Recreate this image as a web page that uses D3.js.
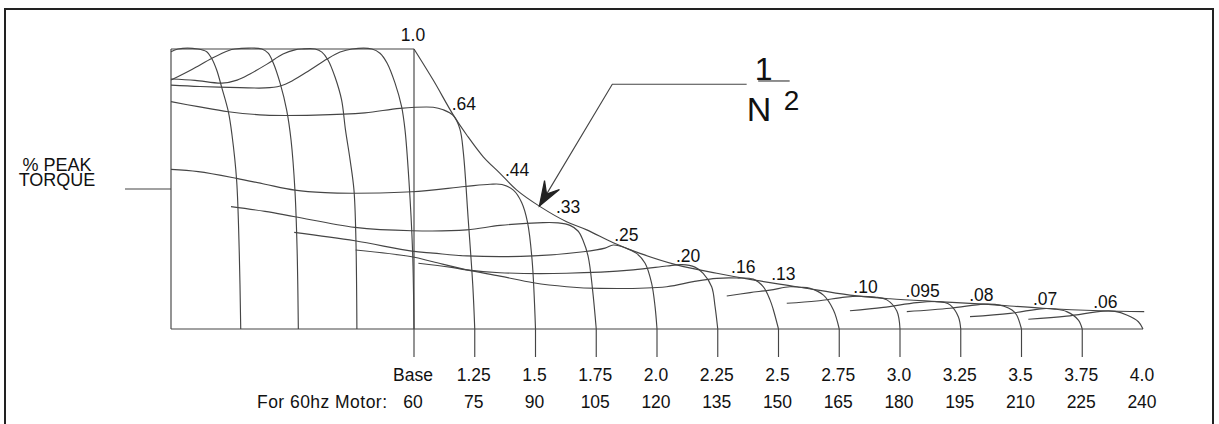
<!DOCTYPE html>
<html><head><meta charset="utf-8">
<script src="https://cdn.jsdelivr.net/npm/d3@7"></script>
<style>html,body{margin:0;padding:0;background:#fff;} svg{display:block;}</style>
</head><body>
<svg id="chart" width="1219" height="424"></svg>
<script>
// ---------------- DATA ----------------
// speed in multiples of base speed, torque in % of peak torque (as drawn)
const speedTicks = [1, 1.25, 1.5, 1.75, 2, 2.25, 2.5, 2.75, 3, 3.25, 3.5, 3.75, 4];
const ratioLabels = ["Base","1.25","1.5","1.75","2.0","2.25","2.5","2.75","3.0","3.25","3.5","3.75","4.0"];
const hzLabels = ["60","75","90","105","120","135","150","165","180","195","210","225","240"];
const hzCaption = "For 60hz Motor:";
const yLabelLines = ["% PEAK", "TORQUE"];
const topLabel = "1.0";

// 1/N^2 envelope
const envSpeed  = [1.000,1.079,1.162,1.217,1.285,1.354,1.423,1.519,1.628,1.711,1.820,1.930,2.081,2.246,2.383,2.575,2.794,2.959,3.151,3.343,3.588,3.823,4.005];
const envTorque = [100,88.9,76.4,69.3,61.5,55.6,49.6,43.7,38.3,35.4,30.8,27.0,22.9,19.9,17.7,15.1,12.1,10.8,9.8,8.9,7.4,6.5,6.2];
const envValueLabels = [".64",".44",".33",".25",".20",".16",".13",".10",".095",".08",".07",".06"];
const envLabelSpeed  = [1.155,1.374,1.584,1.824,2.078,2.305,2.470,2.808,3.023,3.285,3.547,3.795];

// speed-torque curves, one per frequency
const curveSpeeds = [
  [0,0.029,0.111,0.147,0.167,0.188,0.209,0.236,0.251,0.270,0.281,0.287],
  [0,0.086,0.169,0.235,0.263,0.374,0.400,0.421,0.449,0.476,0.494,0.510,0.519,0.524],
  [0,0.099,0.210,0.272,0.325,0.395,0.461,0.510,0.539,0.593,0.621,0.646,0.675,0.702,0.718,0.737,0.753,0.761,0.765],
  [0,0.119,0.284,0.387,0.449,0.498,0.572,0.642,0.696,0.745,0.827,0.860,0.889,0.922,0.949,0.963,0.979,0.994,1.0],
  [0,0.112,0.236,0.387,0.593,0.798,0.942,1.079,1.120,1.162,1.189,1.203,1.223,1.242,1.25],
  [0,0.112,0.270,0.387,0.510,0.634,0.757,0.991,1.210,1.313,1.362,1.409,1.443,1.467,1.486,1.5],
  [0.247,0.387,0.510,0.757,0.991,1.217,1.354,1.532,1.593,1.642,1.675,1.695,1.717,1.735,1.75],
  [0.507,0.757,0.991,1.079,1.217,1.491,1.697,1.786,1.820,1.875,1.916,1.951,1.978,1.992,2.0],
  [1.018,1.148,1.217,1.354,1.628,1.902,2.040,2.103,2.156,2.190,2.225,2.239,2.25],
  [0.760,0.991,1.078,1.217,1.354,1.491,1.628,1.765,2.040,2.149,2.246,2.329,2.396,2.437,2.465,2.479,2.5],
  [2.287,2.383,2.465,2.547,2.588,2.630,2.685,2.726,2.75],
  [2.534,2.657,2.773,2.835,2.897,2.946,2.987,3.0],
  [2.794,2.931,3.069,3.151,3.181,3.206,3.240,3.25],
  [3.028,3.206,3.343,3.391,3.425,3.461,3.480,3.5],
  [3.288,3.453,3.590,3.638,3.686,3.734,3.75],
  [3.528,3.686,3.837,3.885,3.933,3.981,4.0]
];
const curveTorques = [
  [99.0,100,100,99.0,96.7,92.5,86.2,77.6,69.3,53.2,27.1,0],
  [88.9,92.7,96.7,99.4,100,100,98.5,95.0,87.8,78.2,67.5,49.6,28.2,0],
  [89.3,88.8,87.8,88.9,91.1,94.6,98.2,99.7,100,100,98.9,96.1,90.0,81.8,71.1,60.4,49.6,31.8,0],
  [87.1,86.6,86.2,86.1,86.8,88.6,92.5,96.4,98.9,100,100,98.5,95.0,87.8,79.4,71.1,53.2,28.2,0],
  [81.2,79.4,77.6,76.4,76.4,77.2,78.8,79.2,78.3,76.2,71.4,63.1,39.3,15.5,0],
  [57.0,56.2,53.8,51.7,49.6,48.7,48.5,49.0,50.9,51.7,51.6,49.6,45.2,38.2,24.6,0],
  [43.7,42.0,40.1,36.3,35.1,35.4,37.0,38.0,37.9,37.0,35.0,31.8,25.8,13.9,0],
  [34.5,31.5,27.8,27.1,26.1,26.1,27.6,28.9,30.0,28.8,27.0,23.5,16.3,8.0,0],
  [23.5,22.1,21.1,20.1,19.9,21.1,22.5,23.0,22.1,19.9,15.1,8.0,0],
  [28.2,25.8,24.0,21.1,18.9,16.5,15.1,14.5,15.1,16.9,18.1,18.2,17.8,15.1,10.4,6.8,0],
  [11.8,13.0,13.9,15.1,14.9,14.5,12.1,6.8,0],
  [9.2,10.0,11.4,11.7,11.4,10.4,6.4,0],
  [6.5,7.7,9.4,9.8,9.5,8.6,4.4,0],
  [6.2,7.4,8.9,8.8,8.2,6.8,5.0,0],
  [4.4,5.6,7.3,7.1,6.2,3.2,0],
  [3.5,4.6,6.4,6.3,5.0,2.6,0]
];

// 1/N^2 callout leader (speed, torque)
const leaderSpeed  = [2.369, 1.816, 1.516];
const leaderTorque = [87.4, 87.4, 43.9];
const calloutNum = "1", calloutDen = "N", calloutExp = "2";
const yLabelTorque = 50; // torque level of the "% PEAK TORQUE" pointer

// ---------------- DRAW ----------------
const svg = d3.select("#chart");
const W = 1219, H = 424;
const x = d3.scaleLinear().domain([0, 4]).range([171, 1143]);
const y = d3.scaleLinear().domain([0, 100]).range([329, 49]);
const FONT = "'Liberation Sans', Arial, Helvetica, sans-serif";
const LINE = "#454545", TXT = "#111";
const FS = 17.5;

svg.append("rect").attr("width", W).attr("height", H).attr("fill", "#fff");
// outer frame
svg.append("rect").attr("x", 5).attr("y", 9).attr("width", 1208).attr("height", 440)
  .attr("fill", "none").attr("stroke", "#222").attr("stroke-width", 2);

const g = svg.append("g").attr("fill", "none").attr("stroke", LINE).attr("stroke-width", 1.15);

// box: left side, top, baseline
g.append("line").attr("x1", x(0)).attr("x2", x(0)).attr("y1", y(0)).attr("y2", y(100));
g.append("line").attr("x1", x(0)).attr("x2", x(1)).attr("y1", y(100)).attr("y2", y(100));
g.append("line").attr("x1", x(0)).attr("x2", x(4)).attr("y1", y(0)).attr("y2", y(0));

// ticks (base line spans the full height)
const tickLen = 28;
g.selectAll("line.tick").data(speedTicks.filter(d => d < 4)).join("line").attr("class", "tick")
  .attr("x1", d => x(d)).attr("x2", d => x(d))
  .attr("y1", d => d === 1 ? y(100) : y(0)).attr("y2", y(0) + tickLen);

// y label pointer
g.append("line").attr("x1", x(0) - 46).attr("x2", x(0)).attr("y1", y(yLabelTorque)).attr("y2", y(yLabelTorque));

const line = d3.line().x(d => x(d[0])).y(d => y(d[1])).curve(d3.curveCatmullRom.alpha(0.5));

// envelope
g.append("path").attr("d", line(d3.zip(envSpeed, envTorque)));

// curves
g.selectAll("path.curve").data(curveSpeeds.map((s, i) => d3.zip(s, curveTorques[i])))
  .join("path").attr("class", "curve").attr("d", line);

// leader + arrow
const lead = d3.zip(leaderSpeed, leaderTorque);
g.append("path").attr("d", d3.line().x(d => x(d[0])).y(d => y(d[1])).curve(d3.curveLinear)(lead));
{
  const tip = [x(lead[2][0]), y(lead[2][1])];
  const prev = [x(lead[1][0]), y(lead[1][1])];
  const ang = Math.atan2(prev[1] - tip[1], prev[0] - tip[0]);
  const L = 26, a = 0.34;
  const p1 = [tip[0] + L * Math.cos(ang + a), tip[1] + L * Math.sin(ang + a)];
  const p2 = [tip[0] + L * Math.cos(ang - a), tip[1] + L * Math.sin(ang - a)];
  const n = [tip[0] + 14 * Math.cos(ang), tip[1] + 14 * Math.sin(ang)];
  svg.append("path").attr("d", `M${tip}L${p1}L${n}L${p2}Z`)
    .attr("fill", "#222").attr("stroke", "#222").attr("stroke-width", 1.2).attr("stroke-linejoin", "miter");
}

// callout text 1/N^2
const cx = x(lead[0][0]), cy = y(lead[0][1]);
const t = svg.append("g").attr("fill", TXT).attr("font-family", FONT);
t.append("text").attr("x", cx + 17).attr("y", cy - 4).attr("text-anchor", "middle").attr("font-size", 32).text(calloutNum);
svg.append("line").attr("x1", cx + 11.5).attr("x2", cx + 43).attr("y1", cy - 3.3).attr("y2", cy - 3.3)
  .attr("stroke", LINE).attr("stroke-width", 1.2);
t.append("text").attr("x", cx + 0).attr("y", cy + 37).attr("font-size", 34).text(calloutDen);
t.append("text").attr("x", cx + 37).attr("y", cy + 26).attr("font-size", 28).text(calloutExp);

// "1.0"
t.append("text").attr("x", x(1) - 1).attr("y", y(100) - 8).attr("text-anchor", "middle").attr("font-size", FS).text(topLabel);

// envelope value labels
const envAt = d3.scaleLinear().domain(envSpeed).range(envTorque);
t.selectAll("text.env").data(envValueLabels).join("text").attr("class", "env")
  .attr("x", (d, i) => x(envLabelSpeed[i]))
  .attr("y", (d, i) => y(envAt(envLabelSpeed[i])) - 2.5)
  .attr("font-size", FS).text(d => d);

// axis labels
t.selectAll("text.r1").data(ratioLabels).join("text").attr("class", "r1")
  .attr("x", (d, i) => x(speedTicks[i]) - 1).attr("y", y(0) + 52)
  .attr("text-anchor", "middle").attr("font-size", FS).text(d => d);
t.selectAll("text.r2").data(hzLabels).join("text").attr("class", "r2")
  .attr("x", (d, i) => x(speedTicks[i]) - 1).attr("y", y(0) + 79)
  .attr("text-anchor", "middle").attr("font-size", FS).text(d => d);
t.append("text").attr("x", x(1) - 27).attr("y", y(0) + 79).attr("text-anchor", "end")
  .attr("font-size", FS).attr("textLength", 130).attr("lengthAdjust", "spacing").text(hzCaption);

// y label
t.selectAll("text.yl").data(yLabelLines).join("text").attr("class", "yl")
  .attr("x", 57).attr("y", (d, i) => y(yLabelTorque) - 18 + i * 15)
  .attr("text-anchor", "middle").attr("font-size", 18).text(d => d);
</script>
</body></html>
